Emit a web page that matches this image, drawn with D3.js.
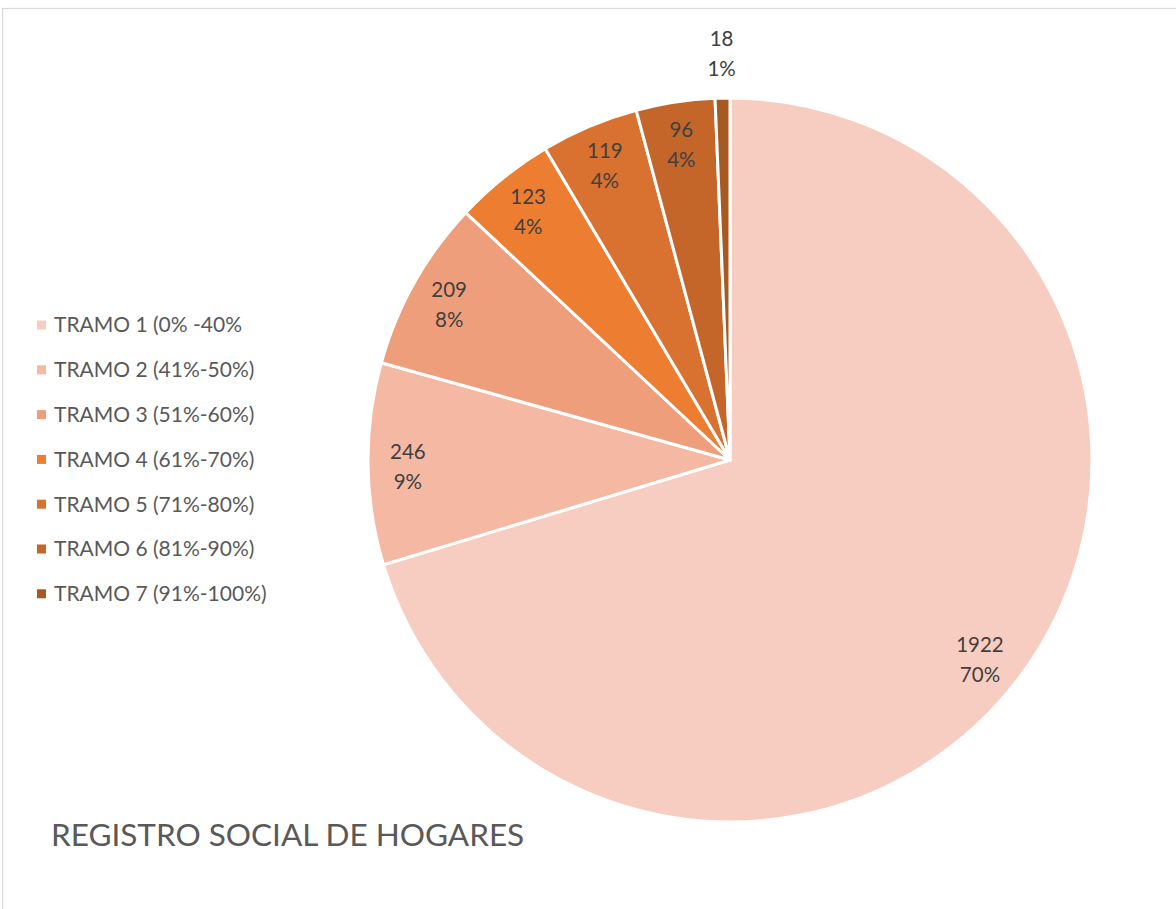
<!DOCTYPE html>
<html>
<head>
<meta charset="utf-8">
<script src="https://cdn.jsdelivr.net/npm/d3@7"></script>
<style>
  body { margin: 0; background: #fff; }
  svg { display: block; font-family: Lato, "Open Sans", sans-serif; }
</style>
</head>
<body>
<script>
// data
var categories = ["TRAMO 1 (0% -40%", "TRAMO 2 (41%-50%)", "TRAMO 3 (51%-60%)", "TRAMO 4 (61%-70%)",
                  "TRAMO 5 (71%-80%)", "TRAMO 6 (81%-90%)", "TRAMO 7 (91%-100%)"];
var values = [1922, 246, 209, 123, 119, 96, 18];
var percents = ["70%", "9%", "8%", "4%", "4%", "4%", "1%"];
var colors = ["#F8CDC1", "#F4B8A3", "#EF9E7C", "#ED7D31", "#D97130", "#C4652A", "#A65A22"];
var title = "REGISTRO SOCIAL DE HOGARES";

var width = 1176, height = 909;
var cx = 730, cy = 460, radius = 362;

var svg = d3.select("body").append("svg")
    .attr("width", width)
    .attr("height", height);

// chart area border
svg.append("rect")
    .attr("x", 2.5).attr("y", 8.5)
    .attr("width", width + 10).attr("height", height + 10)
    .attr("fill", "none")
    .attr("stroke", "#d9d9d9")
    .attr("stroke-width", 1.2);

var total = d3.sum(values);
var data = values.map(function(v, i) {
    return { name: categories[i], value: v, pct: percents[i], color: colors[i] };
});

var pie = d3.pie().sort(null).value(function(d) { return d.value; });
var arc = d3.arc().innerRadius(0).outerRadius(radius);

var g = svg.append("g").attr("transform", "translate(" + cx + "," + cy + ")");

var arcs = pie(data);

g.selectAll("path.slice")
    .data(arcs)
    .enter().append("path")
    .attr("class", "slice")
    .attr("d", arc)
    .attr("fill", function(d) { return d.data.color; })
    .attr("stroke", "#fff")
    .attr("stroke-width", 3)
    .attr("stroke-linejoin", "round");

//__labels: value + percent__//
var labels = g.selectAll("text.lbl")
    .data(arcs)
    .enter().append("text")
    .attr("class", "lbl")
    .attr("text-anchor", "middle")
    .attr("font-size", 20.5)
    .attr("fill", "#404040")
    .attr("transform", function(d) {
        var a = (d.startAngle + d.endAngle) / 2;
        var frac = d.value / total;
        var r = frac < 0.02 ? radius * 1.13 : (frac > 0.5 ? radius * 0.88 : radius * 0.89);
        if (frac > 0.5) a += 0.03; // big slice label sits a bit further round
        return "translate(" + (Math.sin(a) * r) + "," + (-Math.cos(a) * r) + ")";
    });

labels.append("tspan")
    .attr("x", 0).attr("y", -5)
    .text(function(d) { return d.value; });
labels.append("tspan")
    .attr("x", 0).attr("y", 25)
    .text(function(d) { return d.data.pct; });

//__legend__//
var legend = svg.append("g").attr("transform", "translate(37,325)");
var row = legend.selectAll("g")
    .data(data)
    .enter().append("g")
    .attr("transform", function(d, i) { return "translate(0," + (i * 44.8) + ")"; });

row.append("rect")
    .attr("x", 0).attr("y", -4.5)
    .attr("width", 9).attr("height", 9)
    .attr("fill", function(d) { return d.color; });

row.append("text")
    .attr("x", 17).attr("y", 0)
    .attr("dy", "0.35em")
    .attr("font-size", 21)
    .attr("fill", "#595959")
    .text(function(d) { return d.name; });

//__title at bottom left__//
svg.append("text")
    .attr("x", 51).attr("y", 846)
    .attr("font-size", 31.5)
    .attr("fill", "#595959")
    .text(title);
</script>
</body>
</html>
